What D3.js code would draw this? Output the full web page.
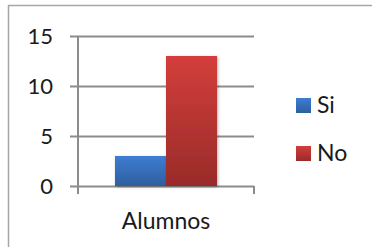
<!DOCTYPE html>
<html>
<head>
<meta charset="utf-8">
<script src="https://cdn.jsdelivr.net/npm/d3@7"></script>
<style>
  body { margin: 0; background: #fff; }
  text { font-family: Lato, "Open Sans", sans-serif; fill: #1a1a1a; }
</style>
</head>
<body>
<div id="chart"></div>
<script>
// chart data
let categories = ['Alumnos'];
let seriesNames = ['Si', 'No'];
let siValues = [3];
let noValues = [13];
let yTicks = [0, 5, 10, 15];

let colours = {
  Si: ['#3d7dd2', '#2e5f9e'],
  No: ['#d33e3b', '#992b29']
};

let width = 372, height = 247;

let svg = d3.select('#chart')
  .append('svg')
  .attr('width', width)
  .attr('height', height);

// gradients for the bars
let defs = svg.append('defs');
seriesNames.forEach(function (name)
{
  let g = defs.append('linearGradient')
    .attr('id', 'grad-' + name)
    .attr('x1', 0).attr('y1', 0)
    .attr('x2', 0).attr('y2', 1);
  g.append('stop').attr('offset', '0%').attr('stop-color', colours[name][0]);
  g.append('stop').attr('offset', '100%').attr('stop-color', colours[name][1]);
});

let shadow = defs.append('filter')
  .attr('id', 'shadow')
  .attr('x', '-20%').attr('y', '-20%')
  .attr('width', '140%').attr('height', '140%');
shadow.append('feDropShadow')
  .attr('dx', 1).attr('dy', 1)
  .attr('stdDeviation', 1.5)
  .attr('flood-color', '#000')
  .attr('flood-opacity', 0.3);

// outer frame
svg.append('rect')
  .attr('x', 8.5).attr('y', 5.5)
  .attr('width', 370).attr('height', 260)
  .attr('fill', 'none')
  .attr('stroke', '#a6a6a6')
  .attr('stroke-width', 1.5);

let plot = { left: 78, right: 254, top: 36, bottom: 186 };

let x = d3.scaleBand()
  .domain(categories)
  .range([plot.left, plot.right]);

let xs = d3.scaleBand()
  .domain(seriesNames)
  .range([0, x.bandwidth()])
  .paddingInner(0)
  .paddingOuter(0.725);

let y = d3.scaleLinear()
  .domain([0, 15])
  .range([plot.bottom, plot.top]);

// grid lines
svg.append('g')
  .selectAll('line')
  .data(yTicks)
  .enter()
  .append('line')
  .attr('x1', plot.left - 8)
  .attr('x2', plot.right)
  .attr('y1', d => Math.round(y(d)) + 0.5)
  .attr('y2', d => Math.round(y(d)) + 0.5)
  .attr('stroke', '#8c8c8c')
  .attr('stroke-width', 2);

// y axis line and bottom ticks
svg.append('line')
  .attr('x1', plot.left).attr('x2', plot.left)
  .attr('y1', plot.top).attr('y2', plot.bottom + 8)
  .attr('stroke', '#8c8c8c')
  .attr('stroke-width', 2);

svg.append('line')
  .attr('x1', plot.right).attr('x2', plot.right)
  .attr('y1', plot.bottom).attr('y2', plot.bottom + 8)
  .attr('stroke', '#8c8c8c')
  .attr('stroke-width', 2);

// y labels
svg.append('g')
  .selectAll('text')
  .data(yTicks)
  .enter()
  .append('text')
  .attr('x', 53)
  .attr('y', d => y(d))
  .attr('dy', '0.36em')
  .attr('text-anchor', 'end')
  .style('font-size', '22px')
  .text(d => d);

// bars
let rows = categories.map((c, i) => ({ cat: c, Si: siValues[i], No: noValues[i] }));

svg.append('g')
  .selectAll('g')
  .data(rows)
  .enter()
  .append('g')
  .attr('transform', d => 'translate(' + x(d.cat) + ',0)')
  .selectAll('rect')
  .data(d => seriesNames.map(n => ({ name: n, value: d[n] })))
  .enter()
  .append('rect')
  .attr('x', d => xs(d.name))
  .attr('y', d => y(d.value))
  .attr('width', xs.bandwidth())
  .attr('height', d => plot.bottom - y(d.value))
  .attr('fill', d => 'url(#grad-' + d.name + ')')
  .attr('filter', 'url(#shadow)');

// category label
svg.append('g')
  .selectAll('text')
  .data(categories)
  .enter()
  .append('text')
  .attr('x', d => x(d) + x.bandwidth() / 2)
  .attr('y', 229)
  .attr('text-anchor', 'middle')
  .style('font-size', '23px')
  .text(d => d);

// legend
let legend = svg.append('g')
  .selectAll('g')
  .data(seriesNames)
  .enter()
  .append('g')
  .attr('transform', (d, i) => 'translate(296,' + (98 + i * 48) + ')');

legend.append('rect')
  .attr('width', 15)
  .attr('height', 15)
  .attr('fill', d => 'url(#grad-' + d + ')');

legend.append('text')
  .attr('x', 21)
  .attr('y', 15)
  .style('font-size', '23px')
  .text(d => d);
</script>
</body>
</html>
